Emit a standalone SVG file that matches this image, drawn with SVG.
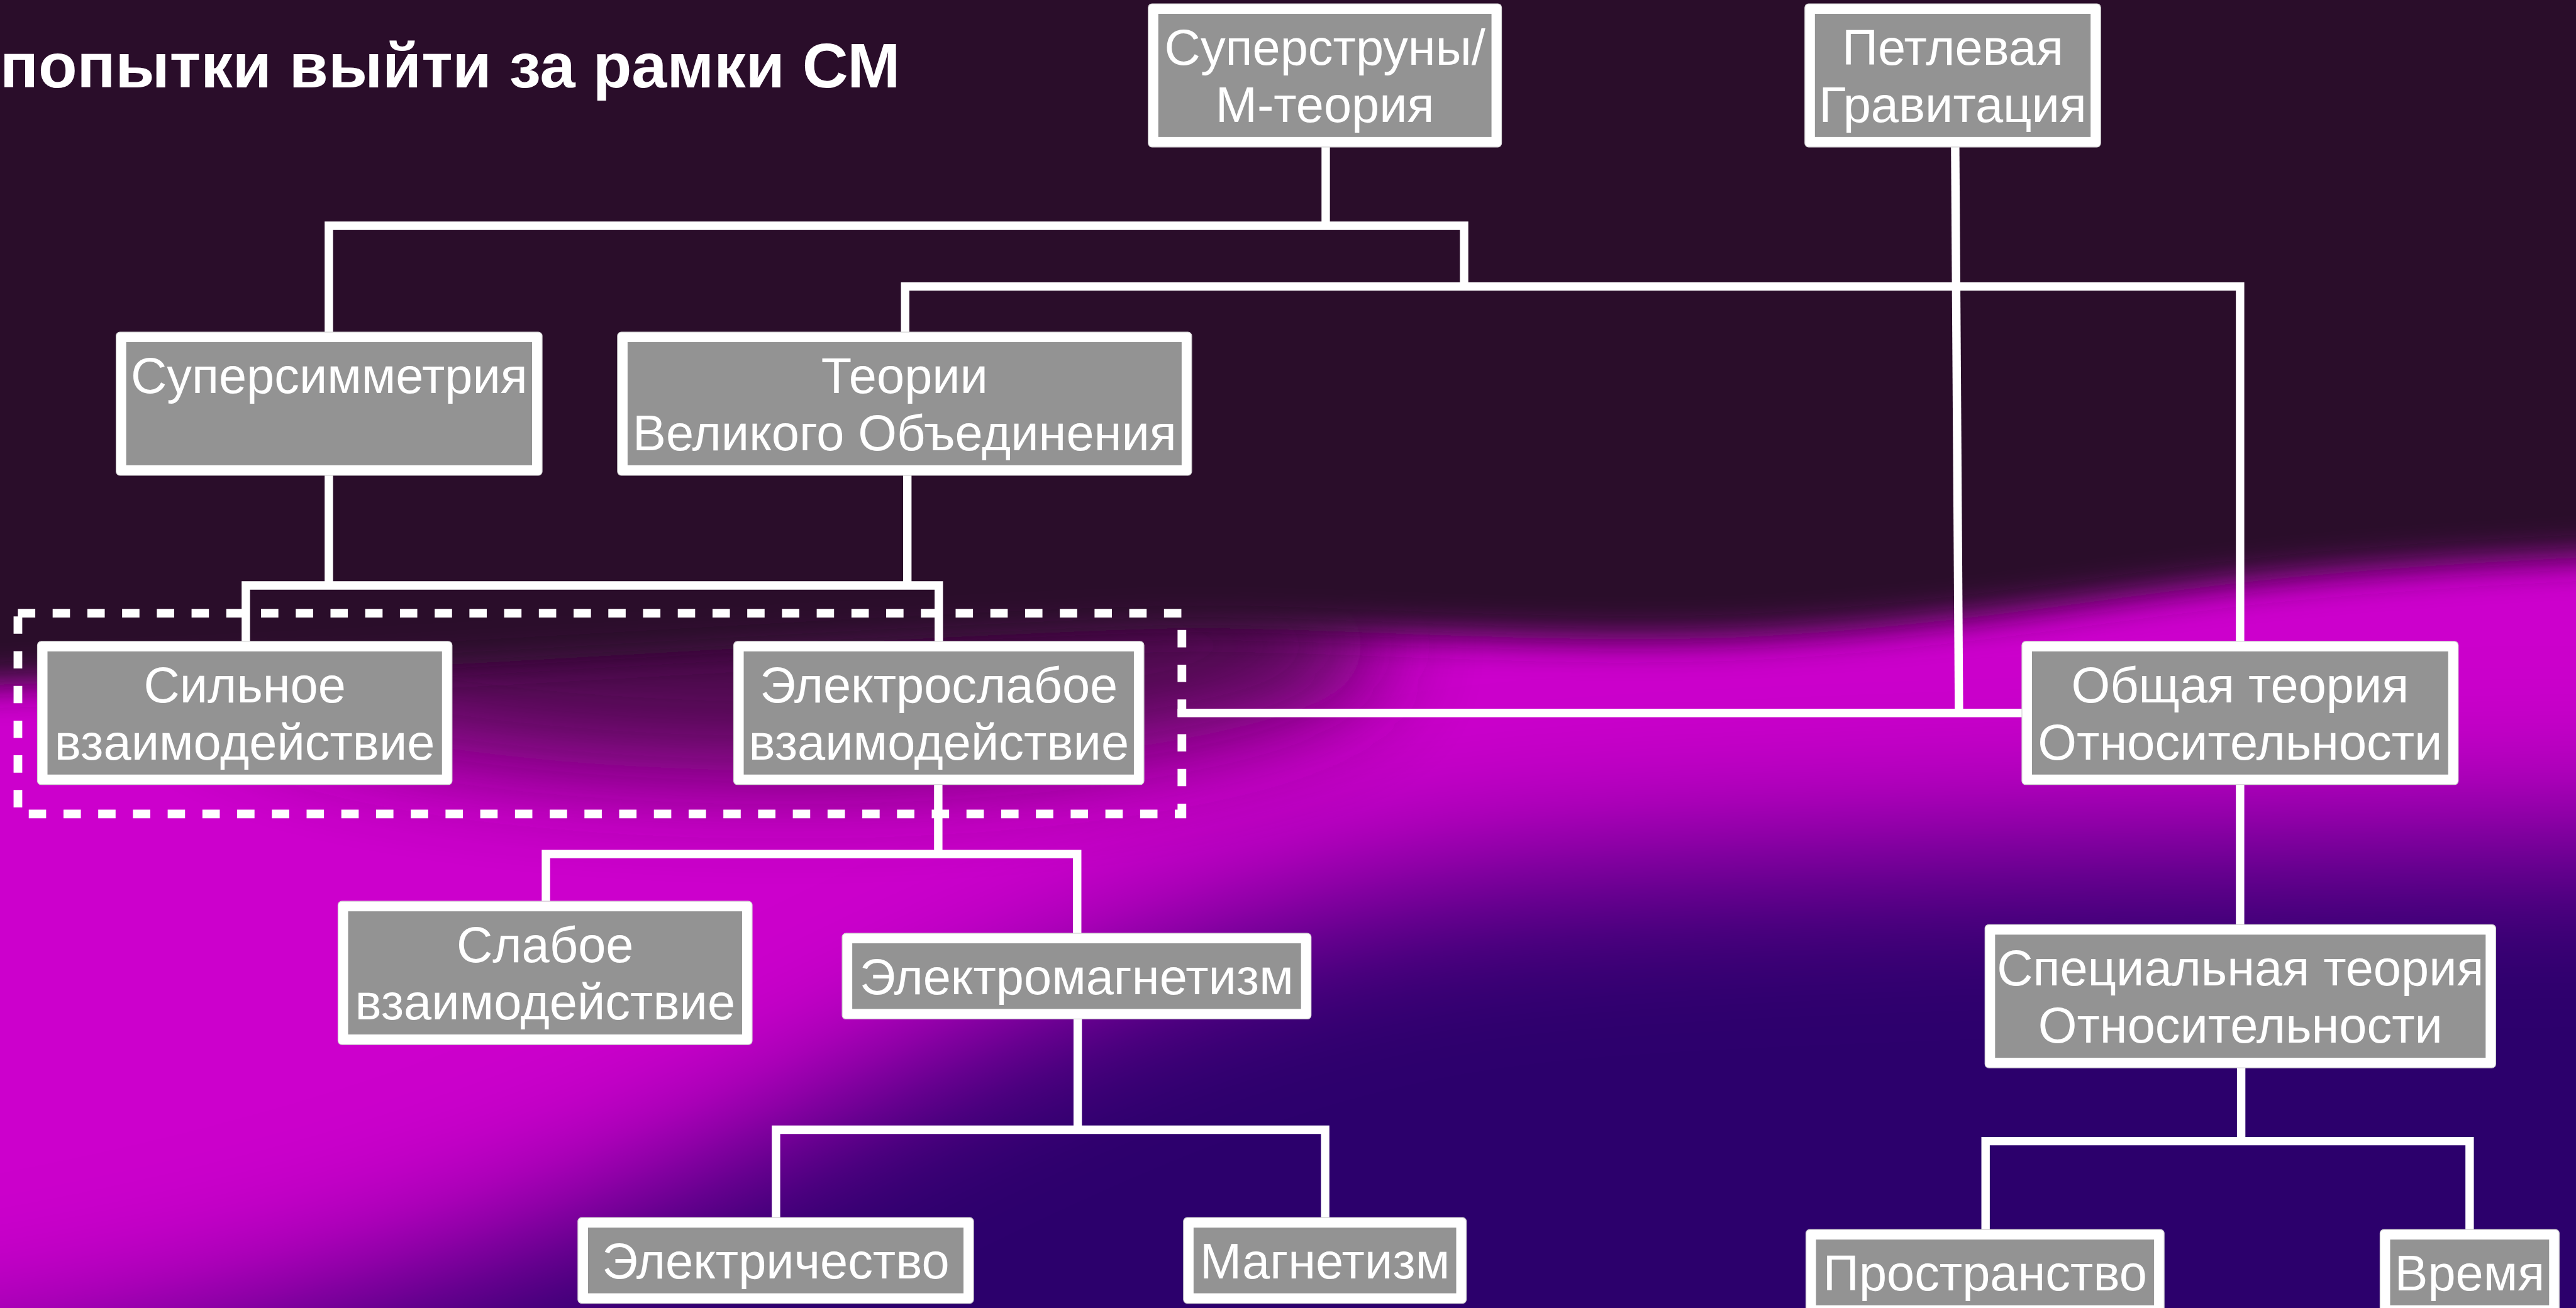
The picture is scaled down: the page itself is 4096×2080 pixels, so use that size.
<svg xmlns="http://www.w3.org/2000/svg" width="4096" height="2080" viewBox="0 0 4096 2080">
<defs>
  <filter id="blurWide" filterUnits="userSpaceOnUse" x="-1500" y="-1500" width="8000" height="6000"><feGaussianBlur stdDeviation="150"/></filter>
  <filter id="blurMid" filterUnits="userSpaceOnUse" x="-1500" y="-1500" width="8000" height="6000"><feGaussianBlur stdDeviation="95"/></filter>
  <filter id="blurSharp" filterUnits="userSpaceOnUse" x="-1500" y="-1500" width="8000" height="6000"><feGaussianBlur stdDeviation="32"/></filter>
  <style>
    .box{fill:#ffffff;stroke:#d6d6d6;stroke-width:1.5}
    .in{fill:#939393}
    .t{font-family:"Liberation Sans",Arial,Helvetica,sans-serif;font-size:92px;fill:#ffffff;text-anchor:middle}
    .title{font-family:"Liberation Sans",Arial,Helvetica,sans-serif;font-size:117px;font-weight:bold;fill:#ffffff}
    .c{stroke:#ffffff;stroke-width:15.5;fill:none;stroke-linecap:butt;stroke-linejoin:miter}
    .frame{fill:none;stroke:#ffffff;stroke-width:16;stroke-dasharray:32 32}
  </style>
</defs>
<g transform="scale(0.862858)">
  <g id="background">
    <rect x="0" y="0" width="4747" height="2411" fill="#2c006c"/>
    <path d="M-600,-600 H5400 V1540 C4600,1545 3400,1560 2800,1610 C2300,1660 1900,1850 1500,2050 C1000,2300 500,2480 -600,2620 Z" fill="#cc00cc" filter="url(#blurWide)"/>
    <ellipse cx="1450" cy="1190" rx="1100" ry="230" fill="#29092b" opacity="0.8" filter="url(#blurMid)"/>
    <path d="M-600,-600 H5400 V1010 C4700,1020 4300,1050 4000,1090 C3700,1130 3500,1160 3200,1175 C2800,1190 2400,1150 2100,1160 C1500,1180 900,1230 0,1262 L-600,1270 Z" fill="#29092b" filter="url(#blurSharp)"/>
  </g>

  <text id="title" class="title" x="0" y="161">попытки выйти за рамки СМ</text>

  <g id="connectors">
    <path class="c" d="M2443,271 V416"/>
    <path class="c" d="M606,612 V416 H2698 V528"/>
    <path class="c" d="M1668,612 V528 H4128 V1182"/>
    <path class="c" d="M3603,271 L3610,1314"/>
    <path class="c" d="M2170,1314 H3726"/>
    <path class="c" d="M606,876 V1079"/>
    <path class="c" d="M1672,876 V1079"/>
    <path class="c" d="M453,1182 V1079 H1730 V1182"/>
    <path class="c" d="M1729,1446 V1574"/>
    <path class="c" d="M1006,1661 V1574 H1985 V1720"/>
    <path class="c" d="M1986,1878 V2082"/>
    <path class="c" d="M1430,2244 V2082 H2442 V2244"/>
    <path class="c" d="M4128,1445 V1704"/>
    <path class="c" d="M4130,1967 V2103"/>
    <path class="c" d="M3659,2266 V2103 H4551 V2266"/>
  </g>

  <g id="frame-standard-model">
    <rect class="frame" x="33" y="1130" width="2145" height="370"/>
  </g>

  <g id="node-superstrings">
    <rect class="box" x="2116" y="7" width="651" height="264" rx="7"/>
    <rect class="in" x="2134.5" y="25.5" width="614" height="227"/>
    <text class="t" x="2441.5" y="119.5">Суперструны/</text>
    <text class="t" x="2441.5" y="224.5">М-теория</text>
  </g>

  <g id="node-loop-gravity">
    <rect class="box" x="3326" y="7" width="545" height="264" rx="7"/>
    <rect class="in" x="3344.5" y="25.5" width="508" height="227"/>
    <text class="t" x="3598.5" y="119.5">Петлевая</text>
    <text class="t" x="3598.5" y="224.5">Гравитация</text>
  </g>

  <g id="node-supersymmetry">
    <rect class="box" x="214" y="612" width="785" height="264" rx="7"/>
    <rect class="in" x="232.5" y="630.5" width="748" height="227"/>
    <text class="t" x="606.5" y="724.5">Суперсимметрия</text>
  </g>

  <g id="node-gut">
    <rect class="box" x="1138" y="612" width="1058" height="264" rx="7"/>
    <rect class="in" x="1156.5" y="630.5" width="1021" height="227"/>
    <text class="t" x="1667" y="724.5">Теории</text>
    <text class="t" x="1667" y="829.5">Великого Объединения</text>
  </g>

  <g id="node-strong">
    <rect class="box" x="69" y="1182" width="764" height="264" rx="7"/>
    <rect class="in" x="87.5" y="1200.5" width="727" height="227"/>
    <text class="t" x="451" y="1294.5">Сильное</text>
    <text class="t" x="451" y="1399.5">взаимодействие</text>
  </g>

  <g id="node-electroweak">
    <rect class="box" x="1352" y="1182" width="756" height="264" rx="7"/>
    <rect class="in" x="1370.5" y="1200.5" width="719" height="227"/>
    <text class="t" x="1730" y="1294.5">Электрослабое</text>
    <text class="t" x="1730" y="1399.5">взаимодействие</text>
  </g>

  <g id="node-general-relativity">
    <rect class="box" x="3726" y="1182" width="804" height="264" rx="7"/>
    <rect class="in" x="3744.5" y="1200.5" width="767" height="227"/>
    <text class="t" x="4128" y="1294.5">Общая теория</text>
    <text class="t" x="4128" y="1399.5">Относительности</text>
  </g>

  <g id="node-weak">
    <rect class="box" x="623" y="1661" width="763" height="264" rx="7"/>
    <rect class="in" x="641.5" y="1679.5" width="726" height="227"/>
    <text class="t" x="1004.5" y="1773.5">Слабое</text>
    <text class="t" x="1004.5" y="1878.5">взаимодействие</text>
  </g>

  <g id="node-electromagnetism">
    <rect class="box" x="1552" y="1720" width="864" height="158" rx="7"/>
    <rect class="in" x="1570.5" y="1738.5" width="827" height="121"/>
    <text class="t" x="1984" y="1832">Электромагнетизм</text>
  </g>

  <g id="node-special-relativity">
    <rect class="box" x="3658" y="1704" width="941" height="264" rx="7"/>
    <rect class="in" x="3676.5" y="1722.5" width="904" height="227"/>
    <text class="t" x="4128.5" y="1816.5">Специальная теория</text>
    <text class="t" x="4128.5" y="1921.5">Относительности</text>
  </g>

  <g id="node-electricity">
    <rect class="box" x="1065" y="2244" width="729" height="158" rx="7"/>
    <rect class="in" x="1083.5" y="2262.5" width="692" height="121"/>
    <text class="t" x="1429.5" y="2356">Электричество</text>
  </g>

  <g id="node-magnetism">
    <rect class="box" x="2181" y="2244" width="521" height="158" rx="7"/>
    <rect class="in" x="2199.5" y="2262.5" width="484" height="121"/>
    <text class="t" x="2441.5" y="2356">Магнетизм</text>
  </g>

  <g id="node-space">
    <rect class="box" x="3328" y="2266" width="660" height="158" rx="7"/>
    <rect class="in" x="3346.5" y="2284.5" width="623" height="121"/>
    <text class="t" x="3658" y="2378">Пространство</text>
  </g>

  <g id="node-time">
    <rect class="box" x="4386" y="2266" width="330" height="158" rx="7"/>
    <rect class="in" x="4404.5" y="2284.5" width="293" height="121"/>
    <text class="t" x="4551" y="2378">Время</text>
  </g>
</g>
</svg>
